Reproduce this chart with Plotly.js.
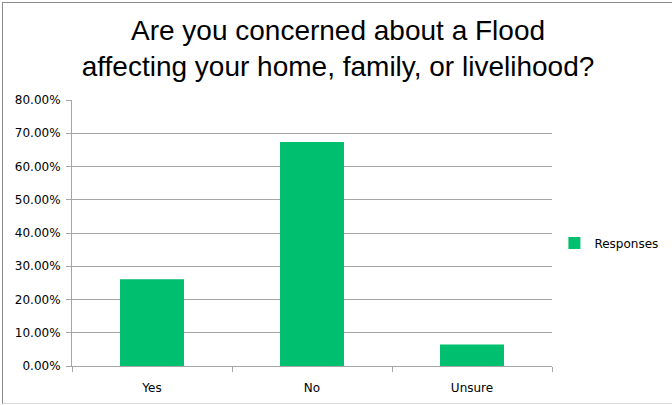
<!DOCTYPE html>
<html>
<head>
<meta charset="utf-8">
<script src="https://cdn.plot.ly/plotly-3.0.1.min.js"></script>
<style>
html,body{margin:0;padding:0;background:#fff;}
#frame{position:absolute;left:2px;top:2px;width:672px;height:402px;border-left:1px solid #8c8c8c;border-top:1px solid #8c8c8c;border-bottom:1px solid #d9d9d9;box-sizing:border-box;pointer-events:none;}
#chart{position:absolute;left:0;top:0;width:672px;height:405px;}
</style>
</head>
<body>
<div id="chart"></div>
<div id="frame"></div>
<script>
const categories = ["Yes", "No", "Unsure"];
const responses = [0.261, 0.674, 0.065];
const seriesName = "Responses";
const titleText = "Are you concerned about a Flood<br>affecting your home, family, or livelihood?";

const trace = {
  type: "bar",
  x: categories,
  y: responses,
  name: seriesName,
  marker: {color: "#00BF6F"},
  showlegend: true,
  hoverinfo: "x+y"
};

const layout = {
  width: 672,
  height: 405,
  margin: {l: 72, r: 120, t: 100, b: 39, autoexpand: false},
  paper_bgcolor: "#ffffff",
  plot_bgcolor: "#ffffff",
  font: {family: "DejaVu Sans, Verdana, sans-serif", size: 12, color: "#404040"},
  title: {
    text: titleText,
    x: 0.503, xanchor: "center",
    y: 1 - 40/405, yanchor: "top", yref: "container",
    font: {family: "Liberation Sans, Arial, sans-serif", size: 28, color: "#000000"}
  },
  bargap: 0.6,
  showlegend: true,
  legend: {
    x: 1.005, xanchor: "left", y: 0.462, yanchor: "middle",
    font: {size: 12, color: "#000000"},
    bgcolor: "rgba(0,0,0,0)"
  },
  xaxis: {
    type: "category",
    showline: true, linecolor: "#a6a6a6", linewidth: 1,
    ticks: "outside", tickson: "boundaries", ticklen: 5, tickcolor: "#a6a6a6",
    ticklabelstandoff: 11,
    showgrid: false,
    tickfont: {size: 12, color: "#000000"},
    fixedrange: true
  },
  yaxis: {
    range: [0, 0.8],
    dtick: 0.1,
    tickformat: ".2%",
    showline: true, linecolor: "#a6a6a6", linewidth: 1,
    ticks: "outside", ticklen: 5, tickcolor: "#a6a6a6",
    ticklabelstandoff: 3,
    showgrid: true, gridcolor: "#a6a6a6", gridwidth: 1,
    zeroline: false,
    tickfont: {size: 12, color: "#000000"},
    fixedrange: true
  }
};

Plotly.newPlot("chart", [trace], layout, {displayModeBar: false, staticPlot: true});
</script>
</body>
</html>
